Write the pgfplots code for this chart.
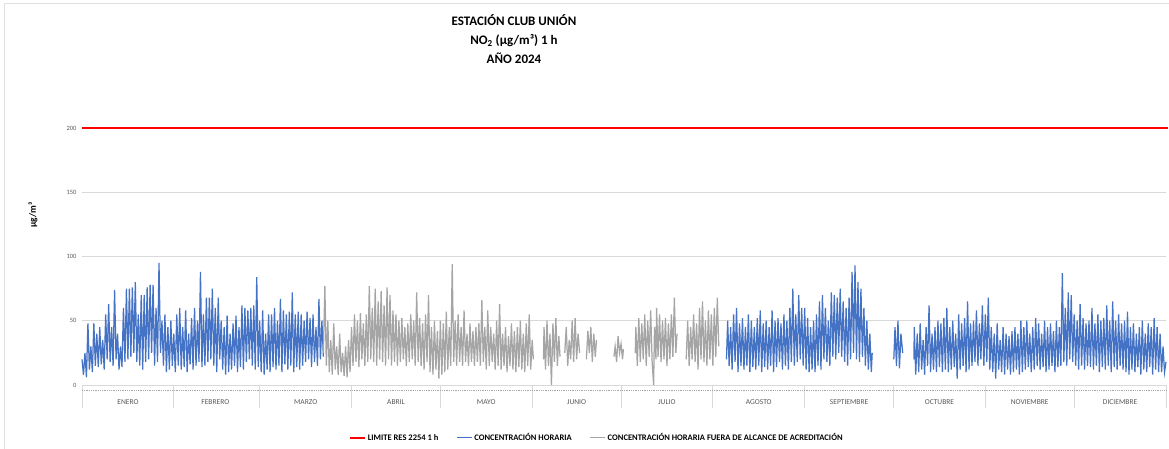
\documentclass[border=0pt]{standalone}
\usepackage{fontspec}
\setmainfont{Carlito}
\usepackage{pgfplots}
\pgfplotsset{compat=1.18}
\definecolor{blueS}{HTML}{4472C4}
\definecolor{grayS}{HTML}{A5A5A5}
\definecolor{gridc}{HTML}{D9D9D9}
\definecolor{txt}{HTML}{595959}
\begin{document}
\begin{tikzpicture}
\path[use as bounding box] (0pt,0pt) rectangle (1169pt,448pt);
\draw[black!12] (4pt,-5pt) -- (4pt,445pt) -- (1180pt,445pt);
\node[align=center, font=\bfseries\fontsize{13}{19}\selectfont] at (514pt,409pt) {ESTACIÓN CLUB UNIÓN\\NO\textsubscript{2} (µg/m³) 1 h\\AÑO 2024};
\node[rotate=90, font=\bfseries\fontsize{9.5}{11}\selectfont] at (33pt,233pt) {µg/m³};
\begin{axis}[
  at={(82pt,63pt)}, anchor=south west,
  scale only axis, width=1084pt, height=257pt,
  xmin=0, xmax=366, ymin=0, ymax=200,
  clip=false,
  axis x line=bottom, axis y line=left, axis line style={-},
  y axis line style={draw=none},
  x axis line style={draw=gridc, line width=0.8pt},
  ytick={0,50,100,150,200},
  ytick style={draw=none},
  ymajorgrids, grid style={draw=gridc, line width=0.8pt},
  yticklabel style={font=\fontsize{6.5}{7}\selectfont, text=txt, xshift=-2pt},
  /pgf/number format/assume math mode=true,
  xtick={15.5,45,75.5,106,136.5,167,197.5,228.5,259,289.5,320,350.5},
  xticklabels={ENERO,FEBRERO,MARZO,ABRIL,MAYO,JUNIO,JULIO,AGOSTO,SEPTIEMBRE,OCTUBRE,NOVIEMBRE,DICIEMBRE},
  xticklabel style={font=\fontsize{7.5}{8}\selectfont, text=txt, anchor=center, yshift=-17pt},
  major tick length=0pt,
  extra x ticks={0,31,60,91,121,152,182,213,244,274,305,335,366},
  extra x tick labels={},
  extra x tick style={major tick length=23pt, tick align=outside, major tick style={draw=gridc, line width=0.8pt}},
  legend columns=3,
  legend style={draw=none, at={(0.475,-0.206)}, anchor=center, font=\bfseries\fontsize{8.5}{10}\selectfont,
    /tikz/every even column/.append style={column sep=16pt}},
  legend image code/.code={\draw[#1] (0pt,0pt) -- (15pt,0pt);},
]
\addlegendimage{red, line width=1.6pt}
\addlegendentry{LIMITE RES 2254 1 h}
\addlegendimage{blueS, line width=1pt}
\addlegendentry{CONCENTRACIÓN HORARIA}
\addlegendimage{grayS, line width=1pt}
\addlegendentry{CONCENTRACIÓN HORARIA FUERA DE ALCANCE DE ACREDITACIÓN}
\addplot[forget plot, densely dotted, color=black!35, line width=0.8pt] coordinates {(0,-4.5)(366,-4.5)};
\addplot[forget plot, red, line width=1.6pt] coordinates {(0,200)(366.7,200)};
% blue Jan-Mar
\addplot[forget plot, blueS, line width=1.25pt] coordinates {
(0,20)(0.5,8)(1,25)(1.5,6)(2,48)(2.5,12)(3,30)(3.5,10)(4,48)(4.5,15)(5,40)(5.5,14)(6,45)(6.5,16)(7,35)(7.5,12)(8,55)(8.5,20)(9,63)(9.5,18)(10,45)(10.5,15)(11,74)(11.5,20)(12,40)(12.5,12)(13,30)(13.5,14)(14,60)(14.5,18)(15,75)(15.5,20)(16,75)(16.5,22)(17,76)(17.5,25)(18,80)(18.5,18)(19,55)(19.5,15)(20,70)(20.5,12)(21,70)(21.5,18)(22,76)(22.5,20)(23,78)(23.5,25)(24,78)(24.5,15)(25,60)(25.5,18)(26,95)(26.5,25)(27,50)(27.5,15)(28,55)(28.5,10)(29,45)(29.5,12)(30,50)(30.5,15)
(31,40)(31.5,10)(32,55)(32.5,15)(33,60)(33.5,12)(34,45)(34.5,14)(35,58)(35.5,10)(36,40)(36.5,16)(37,52)(37.5,12)(38,60)(38.5,15)(39,50)(39.5,18)(40,88)(40.5,14)(41,55)(41.5,15)(42,68)(42.5,18)(43,68)(43.5,20)(44,75)(44.5,15)(45,60)(45.5,10)(46,68)(46.5,20)(47,50)(47.5,12)(48,45)(48.5,8)(49,54)(49.5,10)(50,40)(50.5,12)(51,48)(51.5,15)(52,54)(52.5,10)(53,45)(53.5,14)(54,62)(54.5,12)(55,60)(55.5,18)(56,58)(56.5,20)(57,60)(57.5,15)(58,62)(58.5,12)(59,84)(59.5,14)
(60,50)(60.5,10)(61,58)(61.5,8)(62,40)(62.5,12)(63,55)(63.5,10)(64,55)(64.5,14)(65,60)(65.5,12)(66,50)(66.5,15)(67,67)(67.5,10)(68,58)(68.5,16)(69,55)(69.5,12)(70,57)(70.5,15)(71,72)(71.5,10)(72,55)(72.5,14)(73,57)(73.5,12)(74,55)(74.5,15)(75,50)(75.5,18)(76,57)(76.5,20)(77,52)(77.5,14)(78,55)(78.5,18)(79,45)(79.5,15)(80,67)(80.5,20)(81,50)(81.5,22)
};
% gray Mar-May
\addplot[forget plot, grayS, line width=1.25pt] coordinates {
(81.5,25)(82,77)(82.5,15)(83,50)(83.5,10)(84,35)(84.5,8)(85,48)(85.5,12)(86,30)(86.5,8)(87,40)(87.5,10)(88,25)(88.5,7)(89,30)(89.5,6)(90,35)(90.5,10)
(91,45)(91.5,15)(92,55)(92.5,18)(93,50)(93.5,14)(94,56)(94.5,20)(95,48)(95.5,15)(96,55)(96.5,18)(97,77)(97.5,20)(98,60)(98.5,18)(99,75)(99.5,15)(100,65)(100.5,20)(101,73)(101.5,18)(102,62)(102.5,15)(103,76)(103.5,20)(104,70)(104.5,15)(105,58)(105.5,18)
(106,55)(106.5,15)(107,50)(107.5,18)(108,52)(108.5,20)(109,45)(109.5,15)(110,48)(110.5,18)(111,55)(111.5,20)(112,50)(112.5,15)(113,72)(113.5,18)(114,52)(114.5,15)(115,48)(115.5,12)(116,55)(116.5,18)(117,70)(117.5,10)(118,45)(118.5,8)(119,50)(119.5,12)(120,42)(120.5,5)(121,50)(121.5,8)(122,48)(122.5,10)(123,57)(123.5,12)
(124,45)(124.5,15)(125,94)(125.5,18)(126,50)(126.5,15)(127,55)(127.5,18)(128,45)(128.5,15)(129,58)(129.5,18)(130,40)(130.5,15)(131,48)(131.5,18)(132,42)(132.5,15)(133,45)(133.5,18)
(134,48)(134.5,15)(135,66)(135.5,18)(136,45)(136.5,12)(137,58)(137.5,15)(138,45)(138.5,18)(139,40)(139.5,12)(140,50)(140.5,15)(141,63)(141.5,12)(142,40)(142.5,15)(143,45)(143.5,10)(144,38)(144.5,15)(145,48)(145.5,12)(146,42)(146.5,10)(147,45)(147.5,14)(148,50)(148.5,12)(149,40)(149.5,10)(150,48)(150.5,15)(151,55)(151.5,12)(152,35)(152.4,20)
};
% gray June-July segments
\addplot[forget plot, grayS, line width=1.25pt] coordinates {(155.8,20)(156,45)(156.5,12)(157,50)(157.5,15)(158,40)(158.5,0)(159,48)(159.5,18)(160,52)(160.5,15)(161,38)(161.4,22)};
\addplot[forget plot, grayS, line width=1.25pt] coordinates {(163,25)(163.5,45)(164,15)(164.5,35)(165,20)(165.5,50)(166,18)(166.5,52)(167,20)(167.5,40)(168,25)};
\addplot[forget plot, grayS, line width=1.25pt] coordinates {(170.3,20)(170.8,42)(171.3,25)(171.8,45)(172.3,18)(172.8,40)(173.3,22)(173.7,35)};
\addplot[forget plot, grayS, line width=1.25pt] coordinates {(179.6,22)(180,30)(180.5,18)(181,38)(181.5,25)(182,32)(182.5,20)(182.8,28)};
\addplot[forget plot, grayS, line width=1.25pt] coordinates {(186.8,25)(187,45)(187.5,15)(188,52)(188.5,18)(189,48)(189.5,20)(190,55)(190.5,15)(191,50)(191.5,22)(192,58)(192.5,18)(193,0)(193.3,45)(193.8,20)(194,60)(194.5,22)(195,55)(195.5,18)(196,50)(196.5,20)(197,52)(197.5,15)(198,48)(198.5,20)(199,55)(199.5,22)(200,68)(200.5,25)(200.9,40)};
\addplot[forget plot, grayS, line width=1.25pt] coordinates {(204,20)(204.5,50)(205,15)(205.5,45)(206,20)(206.5,55)(207,18)(207.5,48)(208,12)(208.5,60)(209,20)(209.5,65)(210,18)(210.5,50)(211,15)(211.5,58)(212,20)(212.5,55)(213,15)(213.5,60)(214,22)(214.5,68)(215,30)};
% blue Aug-Sep
\addplot[forget plot, blueS, line width=1.25pt] coordinates {
(217.6,20)(218,50)(218.5,15)(219,45)(219.5,12)(220,55)(220.5,18)(221,60)(221.5,10)(222,48)(222.5,15)(223,52)(223.5,12)(224,45)(224.5,15)(225,55)(225.5,10)(226,50)(226.5,14)(227,45)(227.5,12)(228,52)(228.5,15)(229,58)(229.5,10)(230,48)(230.5,14)(231,50)(231.5,12)(232,45)(232.5,15)(233,58)(233.5,10)(234,50)(234.5,14)(235,52)(235.5,18)(236,48)(236.5,12)(237,55)(237.5,15)(238,50)(238.5,12)(239,60)(239.5,18)(240,75)(240.5,15)(241,55)(241.5,18)(242,70)(242.5,20)(243,60)(243.5,15)
(244,60)(244.5,12)(245,52)(245.5,10)(246,45)(246.5,12)(247,50)(247.5,10)(248,55)(248.5,15)(249,65)(249.5,12)(250,70)(250.5,20)(251,60)(251.5,18)(252,50)(252.5,15)(253,72)(253.5,22)(254,70)(254.5,20)(255,68)(255.5,25)(256,75)(256.5,22)(257,65)(257.5,18)(258,60)(258.5,15)(259,68)(259.5,20)(260,88)(260.5,25)(261,93)(261.5,20)(262,80)(262.5,18)(263,75)(263.5,22)(264,60)(264.5,15)(265,50)(265.5,12)(266,40)(266.5,10)(266.8,25)
};
\addplot[forget plot, blueS, line width=1.25pt] coordinates {(274.1,20)(274.5,45)(275,15)(275.5,50)(276,13)(276.5,40)(277.1,25)};
% blue Oct-Dec
\addplot[forget plot, blueS, line width=1.25pt] coordinates {
(280.9,20)(281,45)(281.5,8)(282,40)(282.5,10)(283,48)(283.5,12)(284,35)(284.5,8)(285,45)(285.5,15)(286,62)(286.5,10)(287,40)(287.5,12)(288,45)(288.5,10)(289,50)(289.5,14)(290,48)(290.5,10)(291,52)(291.5,12)(292,60)(292.5,10)(293,45)(293.5,12)(294,50)(294.5,14)(295,40)(295.5,5)(296,55)(296.5,12)(297,48)(297.5,15)(298,52)(298.5,10)(299,65)(299.5,12)(300,48)(300.5,15)(301,50)(301.5,18)(302,58)(302.5,15)(303,48)(303.5,20)(304,62)(304.5,15)(305,55)(305.5,18)(306,68)(306.5,12)(307,45)(307.5,10)(308,40)(308.5,5)(309,48)(309.5,12)(310,35)(310.5,10)(311,45)(311.5,8)(312,40)(312.5,12)(313,38)(313.5,8)(314,42)(314.5,10)(315,45)(315.5,12)(316,40)(316.5,8)(317,50)(317.5,10)(318,45)(318.5,12)(319,50)(319.5,14)(320,40)(320.5,10)(321,45)(321.5,12)(322,52)(322.5,15)(323,48)(323.5,12)(324,40)(324.5,14)(325,50)(325.5,10)(326,45)(326.5,12)(327,48)(327.5,15)(328,42)(328.5,10)(329,50)(329.5,14)(330,45)(330.5,15)
(331,87)(331.5,18)(332,60)(332.5,15)(333,72)(333.5,20)(334,70)(334.5,18)(335,55)(335.5,15)(336,50)(336.5,12)(337,63)(337.5,15)(338,52)(338.5,12)(339,48)(339.5,15)(340,50)(340.5,14)(341,60)(341.5,12)(342,48)(342.5,15)(343,55)(343.5,10)(344,50)(344.5,14)(345,52)(345.5,12)(346,62)(346.5,15)(347,50)(347.5,10)(348,65)(348.5,14)(349,50)(349.5,12)(350,55)(350.5,15)(351,48)(351.5,12)(352,50)(352.5,10)(353,57)(353.5,8)(354,45)(354.5,12)(355,48)(355.5,10)(356,40)(356.5,14)(357,45)(357.5,8)(358,50)(358.5,12)(359,40)(359.5,10)(360,48)(360.5,14)(361,45)(361.5,8)(362,52)(362.5,12)(363,45)(363.5,10)(364,40)(364.5,10)(365,30)(365.5,10)(366,18)
};
\end{axis}
\end{tikzpicture}
\end{document}
